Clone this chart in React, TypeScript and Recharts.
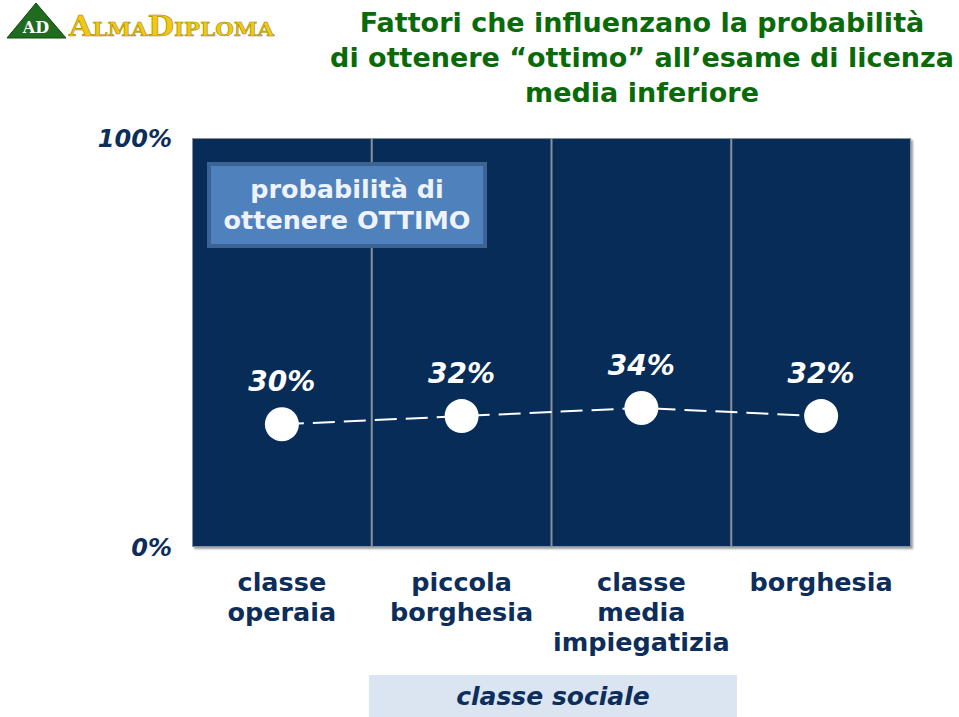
import React from "react";
import {
  ComposedChart,
  Line,
  XAxis,
  YAxis,
  CartesianGrid,
  LabelList,
} from "recharts";

const categories = [
  "classe\noperaia",
  "piccola\nborghesia",
  "classe\nmedia\nimpiegatizia",
  "borghesia",
];
const ottimo = [30, 32, 34, 32];
const yTicks = [0, 100];

const data = categories.map((c, i) => ({ cat: c, value: ottimo[i] }));

const NAVY = "#062c57";
const TEXT = "#0d2d5a";
const FONT = "'DejaVu Sans', Verdana, sans-serif";

const CatTick = (props: any) => {
  const { x, y, payload } = props;
  const lines = String(payload.value).split("\n");
  return (
    <g>
      {lines.map((l, i) => (
        <text
          key={i}
          x={x}
          y={y + 36 + i * 30}
          textAnchor="middle"
          fill={TEXT}
          fontFamily={FONT}
          fontWeight="bold"
          fontSize={25.5}
        >
          {l}
        </text>
      ))}
    </g>
  );
};

const PctTick = (props: any) => {
  const { x, y, payload } = props;
  return (
    <text
      x={x}
      y={y + 9}
      textAnchor="end"
      fill={TEXT}
      fontFamily={FONT}
      fontWeight="bold"
      fontStyle="italic"
      fontSize={24}
    >
      {payload.value}%
    </text>
  );
};

const Dot = (props: any) => {
  const { cx, cy } = props;
  return <circle cx={cx} cy={cy} r={17} fill="#ffffff" />;
};

const ValLabel = (props: any) => {
  const { x, y, value } = props;
  return (
    <text
      x={x}
      y={y - 33}
      textAnchor="middle"
      fill="#ffffff"
      fontFamily={FONT}
      fontWeight="bold"
      fontStyle="italic"
      fontSize={28}
    >
      {value}%
    </text>
  );
};

function Logo() {
  return (
    <svg width={290} height={45} style={{ position: "absolute", left: 0, top: 0 }}>
      <polygon points="7,38 36,3 66,38" fill="#1f6b1f" stroke="#0f4a0f" strokeWidth={1} />
      <text x={36} y={33} textAnchor="middle" fill="#fff" fontFamily="'DejaVu Serif', serif" fontWeight="bold" fontSize={16}>
        AD
      </text>
      <text
        x={69}
        y={36}
        fill="#f2c811"
        stroke="#a88a00"
        strokeWidth={0.6}
        fontFamily="'DejaVu Serif', serif"
        fontWeight="bold"
        fontSize={27}
        style={{ fontVariant: "small-caps" }}
        textLength={205}
        lengthAdjust="spacingAndGlyphs"
      >
        AlmaDiploma
      </text>
    </svg>
  );
}

export default function App() {
  return (
    <div
      style={{
        position: "absolute",
        left: 0,
        top: 0,
        width: 959,
        height: 717,
        background: "#fff",
        overflow: "hidden",
      }}
    >
      <Logo />
      <div
        style={{
          position: "absolute",
          left: 292,
          top: 5,
          width: 700,
          textAlign: "center",
          color: "#0a6a0a",
          fontFamily: FONT,
          fontWeight: "bold",
          fontSize: 27,
          lineHeight: "35px",
          whiteSpace: "nowrap",
        }}
      >
        Fattori che influenzano la probabilità
        <br />
        di ottenere “ottimo” all’esame di licenza
        <br />
        media inferiore
      </div>
      <div
        style={{
          position: "absolute",
          left: 192,
          top: 138,
          width: 719,
          height: 409,
          boxShadow: "2px 2px 2px #9aa0a8",
        }}
      />
      <ComposedChart
        width={959}
        height={717}
        data={data}
        margin={{ top: 138, right: 48, bottom: 0, left: 0 }}
        style={{ position: "absolute", left: 0, top: 0 }}
      >
        <CartesianGrid
          fill={NAVY}
          stroke="#8a8f99"
          strokeWidth={2}
          horizontal={false}
          verticalCoordinatesGenerator={({ offset }: any) =>
            [1, 2, 3].map((i) => offset.left + (offset.width * i) / 4)
          }
        />
        <XAxis
          dataKey="cat"
          scale="band"
          axisLine={false}
          tickLine={false}
          tick={<CatTick />}
          interval={0}
          height={170}
        />
        <YAxis
          domain={[0, 100]}
          ticks={yTicks}
          axisLine={false}
          tickLine={false}
          tick={<PctTick />}
          width={192}
          tickMargin={14}
        />
        <Line
          type="linear"
          dataKey="value"
          stroke="#ffffff"
          strokeWidth={2}
          strokeDasharray="22 9"
          dot={<Dot />}
          isAnimationActive={false}
        >
          <LabelList dataKey="value" content={<ValLabel />} />
        </Line>
      </ComposedChart>
      <div
        style={{
          position: "absolute",
          left: 192,
          top: 138,
          width: 717,
          height: 407,
          border: "1px solid #8a8f99",
          pointerEvents: "none",
        }}
      />
      <div
        style={{
          position: "absolute",
          left: 207,
          top: 162,
          width: 272,
          height: 78,
          background: "#4f81bd",
          border: "4px solid #3b6494",
          color: "#eef3fb",
          fontFamily: FONT,
          fontWeight: "bold",
          fontSize: 25.5,
          lineHeight: "31px",
          textAlign: "center",
          display: "flex",
          flexDirection: "column",
          justifyContent: "center",
          whiteSpace: "nowrap",
        }}
      >
        <div>probabilità di</div>
        <div>ottenere OTTIMO</div>
      </div>
      <div
        style={{
          position: "absolute",
          left: 369,
          top: 675,
          width: 368,
          height: 42,
          background: "#dbe5f1",
          color: TEXT,
          fontFamily: FONT,
          fontWeight: "bold",
          fontStyle: "italic",
          fontSize: 25,
          lineHeight: "44px",
          textAlign: "center",
        }}
      >
        classe sociale
      </div>
    </div>
  );
}
